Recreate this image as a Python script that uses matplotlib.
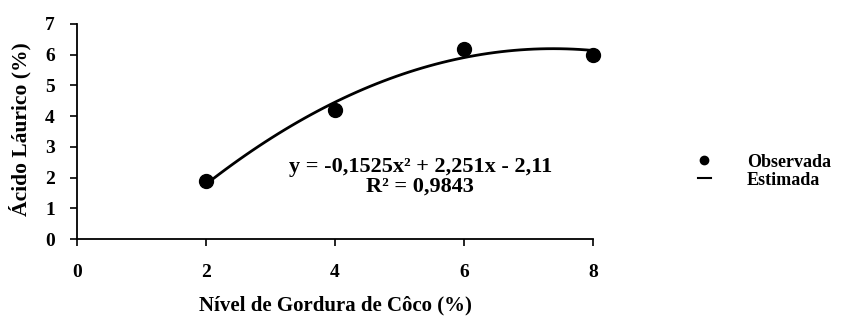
import numpy as np
import matplotlib.pyplot as plt
from matplotlib.lines import Line2D

plt.rcParams['font.family'] = ['Liberation Serif', 'DejaVu Serif']
plt.rcParams['font.weight'] = 'bold'

# Observed lauric acid content per coconut fat level
nivel = [2, 4, 6, 8]
observada = [1.9, 4.2, 6.2, 6.0]

# Quadratic fit coefficients (highest power first)
coef = [-0.1525, 2.251, -2.11]
r2 = 0.9843

x_ticks = [0, 2, 4, 6, 8]
y_ticks = [0, 1, 2, 3, 4, 5, 6, 7]

fig = plt.figure(figsize=(8.46, 3.23), dpi=100)
ax = fig.add_axes([77 / 846, 1 - 239 / 323, (593 - 77) / 846, (239 - 24) / 323])

xs = np.linspace(nivel[0], nivel[-1], 60)
ax.plot(xs, np.polyval(coef, xs), color='black', lw=2)
ax.plot(nivel, observada, 'o', color='black', ms=10, clip_on=False, zorder=3)

ax.set_xlim(0, 8)
ax.set_ylim(0, 7)
ax.set_xticks(x_ticks)
ax.set_yticks(y_ticks)
ax.spines['top'].set_visible(False)
ax.spines['right'].set_visible(False)
ax.spines['left'].set_linewidth(1.3)
ax.spines['bottom'].set_linewidth(1.3)
ax.tick_params(axis='both', direction='out', length=5, width=1.2, labelsize=14)
ax.tick_params(axis='x', pad=13)
ax.tick_params(axis='y', pad=11)

ax.set_xlabel('Nível de Gordura de Côco (%)', fontsize=15, fontweight='bold', va='center')
ax.xaxis.set_label_coords(0.5, -0.307)
ax.set_ylabel('Ácido Láurico (%)', fontsize=15.5, fontweight='bold', va='center')
ax.yaxis.set_label_coords(-0.11, 0.512)

# fitted equation and coefficient of determination
ax.text(5.32, 2.33, 'y = -0,1525x² + 2,251x - 2,11', ha='center', va='center',
        fontsize=16, fontweight='bold')
ax.text(5.32, 1.7, 'R² = ' + f'{r2:.4f}'.replace('.', ','), ha='center', va='center',
        fontsize=16, fontweight='bold')

handles = [
    Line2D([], [], marker='o', ls='none', color='black', ms=6),
    Line2D([], [], color='black', lw=1.5),
]
fig.legend(handles, ['Observada', 'Estimada'], loc='center left',
           bbox_to_anchor=(0.806, 0.47), frameon=False, fontsize=13,
           handlelength=0.7, handletextpad=2.0, labelspacing=0.05)

fig.savefig('out.png', dpi=100)
